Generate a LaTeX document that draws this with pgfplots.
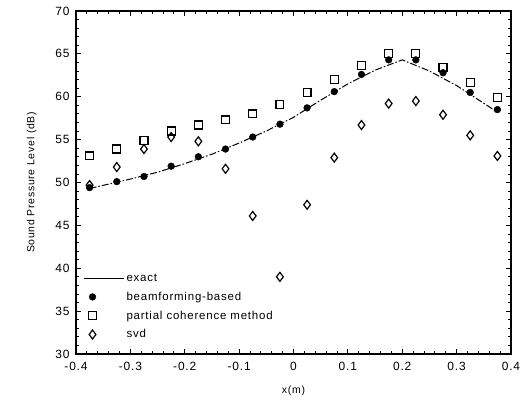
\documentclass[border=0pt]{standalone}
\usepackage{pgfplots}
\pgfplotsset{compat=1.18}
\usepackage{fontspec}
\setmainfont{Liberation Sans}
\newfontfamily\chartfont[LetterSpace=7]{Liberation Sans}
\begin{document}
\begin{tikzpicture}
\begin{axis}[
    name=main,
    width=435bp, height=343bp, scale only axis,
    xmin=-0.4, xmax=0.4, ymin=30, ymax=70,
    xtick={-0.4,-0.3,...,0.4},
    ytick={30,35,...,70},
    minor x tick num=4, minor y tick num=4,
    xticklabels={-0.4,-0.3,-0.2,-0.1,0,0.1,0.2,0.3,0.4},
    tick align=inside,
    major tick length=5bp, minor tick length=3bp,
    axis line style={line width=1.1pt},
    every tick/.style={black, line width=0.8pt},
    /pgf/number format/assume math mode=true,
    tick label style={font=\chartfont\fontsize{12}{14}\selectfont},
    xticklabel style={yshift=-5bp},
    yticklabel style={xshift=-3bp},
    label style={font=\chartfont\fontsize{10.5}{12}\selectfont},
    xlabel={x(m)}, ylabel={Sound Pressure Level (dB)},
    xlabel style={yshift=-8bp},
    ylabel style={yshift=12bp},
    legend style={draw=none, fill=none, at={(0.01,0.245)}, anchor=north west,
        font=\chartfont\fontsize{11.5}{13}\selectfont, row sep=5bp,
        /tikz/every even column/.append style={column sep=7bp}},
    legend cell align=left,
]
% exact
\addplot[black, line width=1pt, dash pattern=on 7pt off 2pt on 1.5pt off 2pt,
    legend image code/.code={\draw[black, line width=1pt, solid] (0bp,0bp) -- (40bp,0bp);}]
    coordinates {(-0.375,49.3)(-0.3,50.4)(-0.25,51.2)(-0.2,52.2)(-0.15,53.3)(-0.1,54.6)
    (-0.05,56.0)(0,57.6)(0.05,59.6)(0.1,61.5)(0.15,63.1)(0.2,64.3)(0.25,63.0)
    (0.3,61.3)(0.375,58.2)};
% beamforming-based
\addplot[black, only marks, mark=*, mark size=3.4pt] coordinates {
    (-0.375,49.4)(-0.325,50.1)(-0.275,50.7)(-0.225,51.9)(-0.175,53.0)(-0.125,53.9)
    (-0.075,55.3)(-0.025,56.8)(0.025,58.7)(0.075,60.6)(0.125,62.6)(0.175,64.3)
    (0.225,64.3)(0.275,62.8)(0.325,60.5)(0.375,58.5)};
% partial coherence method
\addplot[black, only marks, mark=square, mark size=4pt, mark options={line width=1.2pt}] coordinates {
    (-0.375,53.1)(-0.325,53.9)(-0.275,54.9)(-0.225,56.0)(-0.175,56.7)(-0.125,57.3)
    (-0.075,58.0)(-0.025,59.1)(0.025,60.5)(0.075,62.0)(0.125,63.6)(0.175,65.0)
    (0.225,65.0)(0.275,63.4)(0.325,61.7)(0.375,59.9)};
% svd
\addplot[black, only marks, mark=diamond, mark size=4.5pt, mark options={line width=1.2pt}] coordinates {
    (-0.375,49.7)(-0.325,51.8)(-0.275,53.9)(-0.225,55.3)(-0.175,54.8)(-0.125,51.6)
    (-0.075,46.1)(-0.025,39.0)(0.025,47.4)(0.075,52.9)(0.125,56.7)(0.175,59.2)
    (0.225,59.5)(0.275,57.9)(0.325,55.5)(0.375,53.1)};
\legend{exact, beamforming-based, partial coherence method, svd}
\end{axis}
\useasboundingbox ([xshift=-76bp,yshift=-59bp]main.south west) rectangle ([xshift=13bp,yshift=11bp]main.north east);
\end{tikzpicture}
\end{document}
